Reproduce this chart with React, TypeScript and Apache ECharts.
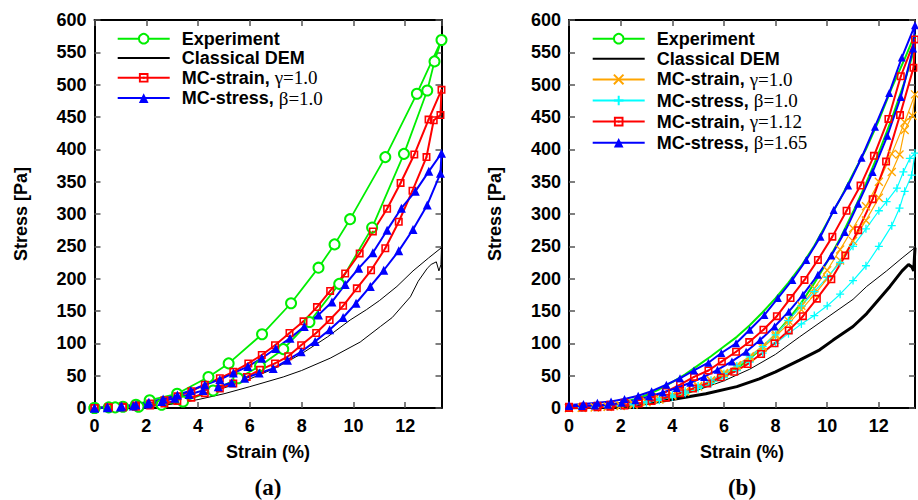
import React, { useEffect, useRef } from 'react';
import * as echarts from 'echarts';

// ---------- axes ----------
const strainMax = 13.4;
const strainStep = 2;
const stressMax = 600;
const stressStep = 50;

// ---------- panel (a) data: [strain %, stress Pa], loops (loading then unloading) ----------
const expA: number[][] = [
  [0, 0], [0.55, 1], [1.1, 2], [1.6, 5], [2.13, 12], [3.19, 22], [4.4, 48], [5.18, 69], [6.47, 114],
  [7.59, 162], [8.65, 217], [9.27, 253], [9.87, 292], [11.23, 388], [12.45, 486], [13.4, 569],
  [13.13, 536], [12.85, 491], [11.95, 393], [10.72, 279], [9.45, 192], [8.3, 133], [7.29, 91],
  [6.39, 65], [5.55, 46], [4.58, 27], [3.42, 10], [2.59, 5], [1.7, 2], [0.8, 1], [0, 0],
];
const demA: number[][] = [
  [0, 0], [1, 1], [2, 4], [3, 10], [4, 19], [5, 31], [6, 45], [7, 62], [8, 84], [9, 110], [9.87, 136],
  [10.5, 152], [11, 166], [11.68, 188], [12.3, 212], [12.9, 232], [13.4, 248],
  [13.38, 222], [13.3, 212], [13.2, 226], [13.0, 222], [12.85, 216], [12.5, 196], [12.2, 172],
  [11.5, 140], [11.04, 126], [10.26, 102], [9.1, 77], [8, 58], [7.29, 48], [6, 33], [5, 22], [4, 13],
  [3, 6], [2, 2], [1, 0.5], [0, 0],
];
const strainA: number[][] = [
  [0, 0], [0.55, 1], [1.1, 2], [1.6, 4], [2.15, 7], [2.7, 12], [3.2, 18], [3.74, 26], [4.26, 36],
  [4.84, 46], [5.36, 56], [5.94, 69], [6.46, 82], [6.97, 97], [7.53, 116], [8.07, 134], [8.59, 156],
  [9.1, 181], [9.68, 208], [10.24, 239], [10.75, 273], [11.3, 308], [11.82, 348], [12.35, 392],
  [12.9, 446], [13.4, 492],
  [13.36, 453], [13.1, 445], [12.82, 388], [12.28, 336], [11.75, 288], [11.23, 247], [10.68, 213],
  [10.13, 185], [9.6, 158], [9.08, 136], [8.56, 116], [7.98, 97], [7.48, 80], [6.97, 69], [6.39, 59],
  [5.88, 48], [5.36, 38], [4.84, 30], [4.26, 23], [3.74, 16], [3.2, 11], [2.7, 7], [2.15, 4],
  [1.6, 2], [1.1, 1], [0.55, 0.5], [0, 0],
];
const stressA: number[][] = [
  [0, 0], [0.5, 1.5], [1.05, 3], [1.6, 5], [2.1, 9], [2.65, 14], [3.2, 20], [3.72, 27], [4.26, 36],
  [4.84, 44], [5.36, 54], [5.92, 64], [6.46, 77], [7.0, 92], [7.55, 108], [8.1, 126], [8.65, 144],
  [9.17, 164], [9.68, 191], [10.2, 216], [10.75, 240], [11.3, 275], [11.85, 309], [12.39, 335],
  [12.91, 366], [13.4, 394],
  [13.36, 363], [12.85, 314], [12.3, 276], [11.75, 243], [11.17, 213], [10.65, 188], [10.1, 162],
  [9.6, 140], [9.08, 121], [8.52, 103], [7.98, 87], [7.45, 74], [6.9, 61], [6.36, 54], [5.8, 46],
  [5.3, 39], [4.78, 33], [4.19, 27], [3.65, 21], [3.1, 15], [2.6, 10], [2.05, 6], [1.5, 3], [1.0, 1.5],
  [0.5, 0.5], [0, 0],
];

// ---------- panel (b) data ----------
const expB: number[][] = [
  [0, 0], [0.5, 1], [1, 2], [1.5, 4], [2, 8], [2.5, 13], [3, 20], [3.5, 29], [4, 40], [4.5, 52], [5, 66],
  [5.5, 80], [6, 95], [6.5, 110], [7, 128], [7.5, 148], [8, 170], [8.5, 194], [9, 220], [9.5, 251],
  [10, 287], [10.5, 323], [11, 362], [11.5, 400], [12, 445], [12.5, 495], [13, 540], [13.4, 578],
  [13.3, 545], [13, 505], [12.5, 447], [12, 395], [11.5, 347], [11, 303], [10.5, 262], [10, 226],
  [9.5, 193], [9, 163], [8.5, 137], [8, 114], [7.5, 94], [7, 76], [6.5, 61], [6, 49], [5.5, 38],
  [5, 29], [4.5, 22], [4, 16], [3.5, 11], [3, 7], [2.5, 4], [2, 2], [1, 1], [0, 0],
];
const demBLoad: number[][] = [
  [0, 0], [1, 1], [2, 4], [3, 9], [4, 17], [5, 28], [6, 42], [7, 60], [8, 83], [8.93, 110], [10, 140],
  [11, 168], [11.53, 188], [12.3, 212], [12.9, 232], [13.4, 248],
];
const demBUnload: number[][] = [
  [13.4, 248], [13.35, 212], [13.28, 218], [13.15, 222], [12.9, 212], [12.43, 188], [11.53, 146],
  [11, 126], [10.23, 105], [9.71, 90], [8.93, 74], [8, 56], [7.37, 45], [6.5, 33], [5.3, 22], [4, 13],
  [3, 7], [2, 3], [1, 1], [0, 0],
];
const strain10B: number[][] = [
  [0, 0], [0.5, 0.5], [1, 1], [1.5, 2], [2, 4], [2.5, 6.5], [3, 10], [3.5, 14], [4, 20], [4.5, 26],
  [5, 34], [5.5, 43], [6, 54], [6.5, 66], [7, 80], [7.5, 96], [8, 114], [8.5, 135], [9, 158],
  [9.5, 185], [10, 213], [10.5, 245], [11, 278], [11.5, 312], [12, 350], [12.5, 393], [13, 442],
  [13.4, 485],
  [13.3, 452], [13.0, 430], [12.8, 392], [12.5, 365], [12, 325], [11.5, 290], [11, 258], [10.5, 228],
  [10, 200], [9.5, 175], [9, 152], [8.5, 130], [8, 111], [7.5, 93], [7, 78], [6.5, 64], [6, 52],
  [5.5, 42], [5, 33], [4.5, 25], [4, 19], [3.5, 13], [3, 9], [2.5, 5], [2, 3], [1.5, 2], [1, 1],
  [0.5, 0.5], [0, 0],
];
const stress10B: number[][] = [
  [0, 0], [0.5, 0.5], [1, 1], [1.5, 2], [2, 4], [2.5, 6.5], [3, 10], [3.5, 14], [4, 20], [4.5, 26],
  [5, 34], [5.5, 43], [6, 53], [6.5, 65], [7, 79], [7.5, 95], [8, 113], [8.5, 135], [9, 158],
  [9.5, 180], [10, 202], [10.5, 225], [11, 250], [11.5, 277], [12, 305], [12.3, 319], [12.7, 340],
  [12.95, 365], [13.2, 386], [13.4, 394],
  [13.27, 360], [13.0, 335], [12.8, 309], [12.5, 282], [12, 250], [11.5, 220], [11, 197], [10.5, 176],
  [10, 158], [9.5, 143], [9, 130], [8.5, 115], [8, 100], [7.5, 85], [7, 71], [6.5, 58], [6, 47],
  [5.5, 38], [5, 30], [4.5, 23], [4, 17], [3.5, 12], [3, 8], [2.5, 5], [2, 3], [1.5, 2], [1, 1],
  [0.5, 0.5], [0, 0],
];
const strain112B: number[][] = [
  [0, 2], [0.55, 2.5], [1.1, 3.5], [1.6, 5], [2.15, 8], [2.7, 12], [3.2, 17], [3.75, 25], [4.3, 36],
  [4.84, 48], [5.4, 58], [5.92, 72], [6.47, 87], [6.98, 102], [7.53, 121], [8.05, 142], [8.58, 170],
  [9.12, 198], [9.64, 229], [10.2, 265], [10.75, 305], [11.29, 344], [11.81, 390], [12.37, 447],
  [12.85, 513], [13.4, 570],
  [13.34, 526], [12.82, 453], [12.28, 381], [11.76, 323], [11.2, 275], [10.7, 236], [10.16, 199],
  [9.6, 169], [9.06, 142], [8.51, 120], [7.96, 100], [7.44, 83.5], [6.92, 68], [6.4, 56], [5.88, 47.5],
  [5.35, 38], [4.8, 30], [4.3, 23], [3.75, 16], [3.2, 11], [2.7, 7], [2.15, 4], [1.6, 2], [1.1, 1],
  [0.55, 0.5], [0, 0],
];
const stress165B: number[][] = [
  [0, 4.6], [0.56, 6], [1.1, 8], [1.63, 10], [2.15, 14], [2.68, 19], [3.2, 26], [3.77, 36], [4.3, 46],
  [4.84, 58], [5.4, 70], [5.9, 85], [6.47, 100], [7.0, 121], [7.57, 144], [8.09, 170], [8.65, 198],
  [9.19, 229], [9.74, 265], [10.25, 306], [10.81, 344], [11.33, 387], [11.85, 435], [12.4, 487],
  [12.89, 542], [13.4, 592],
  [13.33, 556], [12.85, 481], [12.33, 421], [11.76, 365], [11.2, 316], [10.68, 272], [10.16, 236],
  [9.64, 206], [9.06, 175], [8.51, 149], [7.96, 126], [7.4, 105], [6.86, 87], [6.31, 72], [5.75, 59],
  [5.23, 48], [4.7, 39], [4.17, 31], [3.63, 24], [3.1, 18], [2.57, 12], [2.04, 8], [1.5, 5], [1.0, 4],
  [0.5, 3], [0, 3],
];

// ---------- legend texts ----------
const legendA = ['exp_a', 'dem_a', 'strain_a', 'stress_a'];
const legendB = ['exp_b', 'dem_b', 'strain10_b', 'stress10_b', 'strain112_b', 'stress165_b'];
const lineOnly = ['dem_a', 'dem_b'];
const legendText: Record<string, string> = {
  exp_a: '{s|Experiment}',
  dem_a: '{s|Classical DEM}',
  strain_a: '{s|MC-strain, }{g|γ=1.0}',
  stress_a: '{s|MC-stress, }{g|β=1.0}',
  exp_b: '{s|Experiment}',
  dem_b: '{s|Classical DEM}',
  strain10_b: '{s|MC-strain, }{g|γ=1.0}',
  stress10_b: '{s|MC-stress, }{g|β=1.0}',
  strain112_b: '{s|MC-strain, }{g|γ=1.12}',
  stress165_b: '{s|MC-stress, }{g|β=1.65}',
};

const SANS = '"Liberation Sans", Arial, sans-serif';
const SERIF = '"Liberation Serif", "Times New Roman", serif';
const GREEN = '#00ee00';
const RED = '#ff0000';
const BLUE = '#0000ff';
const ORANGE = '#ffa500';
const CYAN = '#00ffff';

const SQUARE = 'path://M0,0H10V10H0Z M2,2V8H8V2Z M4,4H6V6H4Z';
const CROSS = 'path://M0,0L10,10M10,0L0,10';
const PLUS = 'path://M5,0L5,10M0,5L10,5';

const labelFont = { fontFamily: SANS, fontWeight: 'bold' as const, fontSize: 18, color: '#000' };

function xAxes(gridIndex: number) {
  const common = {
    type: 'value' as const,
    gridIndex,
    min: 0,
    max: strainMax,
    interval: strainStep,
    splitLine: { show: false },
    axisLine: { show: true, onZero: false, lineStyle: { color: '#000', width: 2 } },
    axisTick: { show: true, inside: true, length: 6, lineStyle: { color: '#555', width: 1.5 } },
  };
  return [
    {
      ...common,
      position: 'bottom',
      name: 'Strain (%)',
      nameLocation: 'middle',
      nameGap: 35,
      nameTextStyle: labelFont,
      axisLabel: {
        ...labelFont,
        margin: 9,
        showMaxLabel: false,
        formatter: (v: number) => (Math.abs(v % strainStep) < 1e-9 ? String(v) : ''),
      },
    },
    { ...common, position: 'top', axisLabel: { show: false } },
  ];
}

function yAxes(gridIndex: number) {
  const common = {
    type: 'value' as const,
    gridIndex,
    min: 0,
    max: stressMax,
    interval: stressStep,
    splitLine: { show: false },
    axisLine: { show: true, onZero: false, lineStyle: { color: '#000', width: 2 } },
    axisTick: { show: true, inside: true, length: 6, lineStyle: { color: '#555', width: 1.5 } },
  };
  return [
    {
      ...common,
      position: 'left',
      name: 'Stress [Pa]',
      nameLocation: 'middle',
      nameGap: 65,
      nameTextStyle: labelFont,
      axisLabel: { ...labelFont, margin: 8 },
    },
    { ...common, position: 'right', axisLabel: { show: false } },
  ];
}

function legend(names: string[], left: number, top: number, gap: number) {
  return {
    data: names.map((name) =>
      lineOnly.includes(name) ? { name, itemStyle: { opacity: 0 } } : { name }
    ),
    orient: 'vertical',
    left,
    top,
    padding: 0,
    itemWidth: 52,
    itemHeight: 12,
    itemGap: gap,
    selectedMode: false,
    formatter: (name: string) => legendText[name],
    textStyle: {
      rich: {
        s: { fontFamily: SANS, fontWeight: 'bold', fontSize: 18, color: '#000', lineHeight: 16, padding: [0, 0, 0, 7] },
        g: { fontFamily: SERIF, fontSize: 19, color: '#000', lineHeight: 16 },
      },
    },
  };
}

function line(name: string, data: number[][], axis: number, color: string, width: number, extra: any = {}) {
  return {
    type: 'line',
    name,
    data,
    xAxisIndex: axis,
    yAxisIndex: axis,
    lineStyle: { color, width },
    itemStyle: { color },
    symbol: 'none',
    ...extra,
  };
}

export default function App() {
  const ref = useRef<HTMLDivElement>(null);
  useEffect(() => {
    if (!ref.current) return;
    const chart = echarts.init(ref.current, undefined, { renderer: 'svg' });
    const option: any = {
      animation: false,
      backgroundColor: '#fff',
      grid: [
        { left: 94.5, right: 476.5, top: 20, bottom: 92 },
        { left: 569, right: 3, top: 20, bottom: 92 },
      ],
      xAxis: [...xAxes(0), ...xAxes(1)],
      yAxis: [...yAxes(0), ...yAxes(1)],
      legend: [legend(legendA, 116.7, 29.7, 1.3), legend(legendB, 591.7, 29.7, 2.1)],
      series: [
        // panel (a): axes 0
        line('exp_a', expA, 0, GREEN, 1.8, {
          symbol: 'emptyCircle', symbolSize: 10, itemStyle: { color: GREEN, borderWidth: 1.8 },
        }),
        line('dem_a', demA, 0, '#000', 1),
        line('strain_a', strainA, 0, RED, 2, { symbol: SQUARE, symbolSize: 8 }),
        line('stress_a', stressA, 0, BLUE, 2, { symbol: 'triangle', symbolSize: 9 }),
        // panel (b): axes 2
        line('exp_b', expB, 2, GREEN, 2, {
          symbol: 'emptyCircle', symbolSize: 6, showSymbol: false, itemStyle: { color: GREEN, borderWidth: 1.5 },
        }),
        line('dem_b', demBLoad, 2, '#000', 1),
        line('dem_b_unload', demBUnload, 2, '#000', 3),
        line('strain10_b', strain10B, 2, ORANGE, 1.2, {
          symbol: CROSS, symbolSize: 8, itemStyle: { color: ORANGE, borderColor: ORANGE, borderWidth: 1.3 },
        }),
        line('stress10_b', stress10B, 2, CYAN, 1.2, {
          symbol: PLUS, symbolSize: 8, itemStyle: { color: CYAN, borderColor: CYAN, borderWidth: 1.3 },
        }),
        line('strain112_b', strain112B, 2, RED, 2, { symbol: SQUARE, symbolSize: 8 }),
        line('stress165_b', stress165B, 2, BLUE, 2, { symbol: 'triangle', symbolSize: 8 }),
      ],
      graphic: [
        {
          type: 'text', x: 268, y: 487,
          style: { text: '(a)', font: `bold 23px ${SERIF}`, fill: '#000', textAlign: 'center', textVerticalAlign: 'middle' },
        },
        {
          type: 'text', x: 742, y: 487,
          style: { text: '(b)', font: `bold 23px ${SERIF}`, fill: '#000', textAlign: 'center', textVerticalAlign: 'middle' },
        },
      ],
    };
    chart.setOption(option);
    return () => chart.dispose();
  }, []);
  return (
    <div
      ref={ref}
      style={{ position: 'absolute', left: 0, top: 0, width: 918, height: 500, background: '#fff' }}
    />
  );
}
